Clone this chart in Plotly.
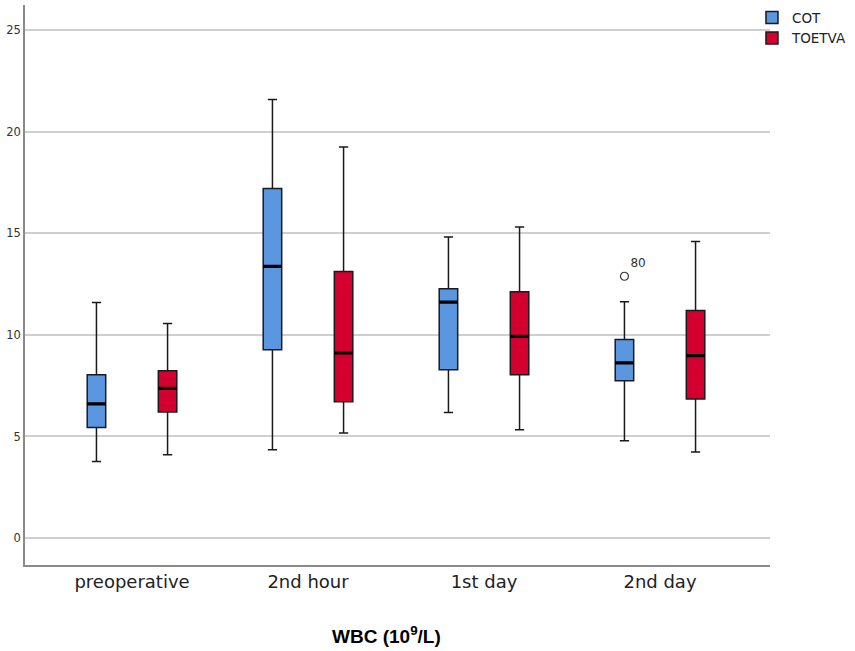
import plotly.graph_objects as go

categories = ["preoperative", "2nd hour", "1st day", "2nd day"]

# COT group: box statistics
cot_lower = [3.77, 4.34, 6.18, 4.79]
cot_q1 = [5.44, 9.27, 8.29, 7.75]
cot_median = [6.61, 13.38, 11.62, 8.62]
cot_q3 = [8.04, 17.21, 12.28, 9.77]
cot_upper = [11.60, 21.59, 14.83, 11.64]

# TOETVA group
toetva_lower = [4.10, 5.17, 5.33, 4.23]
toetva_q1 = [6.20, 6.71, 8.04, 6.84]
toetva_median = [7.37, 9.11, 9.93, 8.98]
toetva_q3 = [8.24, 13.13, 12.13, 11.21]
toetva_upper = [10.57, 19.26, 15.32, 14.60]

# outlier
outlier_cat = [3]
outlier_val = [12.89]
outlier_label = ["80"]

yticks = [0, 5, 10, 15, 20, 25]

pos = list(range(len(categories)))
shift = 0.202
bw = 0.105

fig = go.Figure()

groups = [
    ("COT", "#5b96e0", -shift, cot_lower, cot_q1, cot_median, cot_q3, cot_upper),
    ("TOETVA", "#d3002f", shift, toetva_lower, toetva_q1, toetva_median, toetva_q3, toetva_upper),
]

for name, color, off, lo, q1, med, q3, up in groups:
    xs = [p + off for p in pos]
    fig.add_trace(go.Box(
        name=name, x=xs, q1=q1, median=med, q3=q3,
        lowerfence=lo, upperfence=up, width=bw,
        fillcolor=color, line=dict(color="#1a1a1a", width=1.5),
        whiskerwidth=0.5, boxpoints=False, hoverinfo="skip",
    ))
    # thick median line drawn as a flat box on top
    fig.add_trace(go.Box(
        x=xs, q1=med, median=med, q3=med, lowerfence=med, upperfence=med,
        width=bw, fillcolor="black", line=dict(color="black", width=3.2),
        whiskerwidth=0, boxpoints=False, showlegend=False, hoverinfo="skip",
    ))

fig.add_trace(go.Scatter(
    x=[c - shift for c in outlier_cat], y=outlier_val, mode="markers+text",
    text=outlier_label, textposition="top right",
    textfont=dict(size=12, color="#333333", family="DejaVu Sans"),
    marker=dict(symbol="circle-open", size=8, color="#333333", line=dict(width=1.2)),
    showlegend=False, hoverinfo="skip",
))

fig.add_annotation(
    text="<b>WBC (10<sup>9</sup>/L)</b>", xref="paper", yref="paper",
    x=0.485, y=-0.125, showarrow=False, xanchor="center", yanchor="middle",
    font=dict(size=19, family="Liberation Sans Narrow, Arial Narrow, sans-serif", color="black"),
)

fig.update_layout(
    width=855, height=651,
    margin=dict(l=25, r=85, t=5, b=86, autoexpand=False),
    plot_bgcolor="white", paper_bgcolor="white",
    boxmode="overlay",
    legend=dict(x=0.9758, y=1.005, xanchor="left", yanchor="top",
                bgcolor="rgba(0,0,0,0)",
                font=dict(size=13.5, family="DejaVu Sans", color="#222222"),
                tracegroupgap=0, itemwidth=30),
    xaxis=dict(
        range=[-0.608, 3.625], tickmode="array", tickvals=pos, ticktext=categories,
        showgrid=False, zeroline=False, showline=True, linecolor="#8a8a8a", linewidth=1.5,
        ticks="", automargin=False,
        tickfont=dict(size=18, family="DejaVu Sans", color="#222222"),
    ),
    yaxis=dict(
        range=[-1.33, 26.25], tickmode="array", tickvals=yticks,
        showgrid=True, gridcolor="#cfcfcf", gridwidth=1.5, zeroline=False,
        showline=True, linecolor="#8a8a8a", linewidth=1.5, ticks="", automargin=False,
        tickfont=dict(size=11.5, family="DejaVu Sans", color="#333333"),
    ),
)

fig.write_html("out.html", config={"displayModeBar": False},
               post_script="document.body.style.margin='0';")
